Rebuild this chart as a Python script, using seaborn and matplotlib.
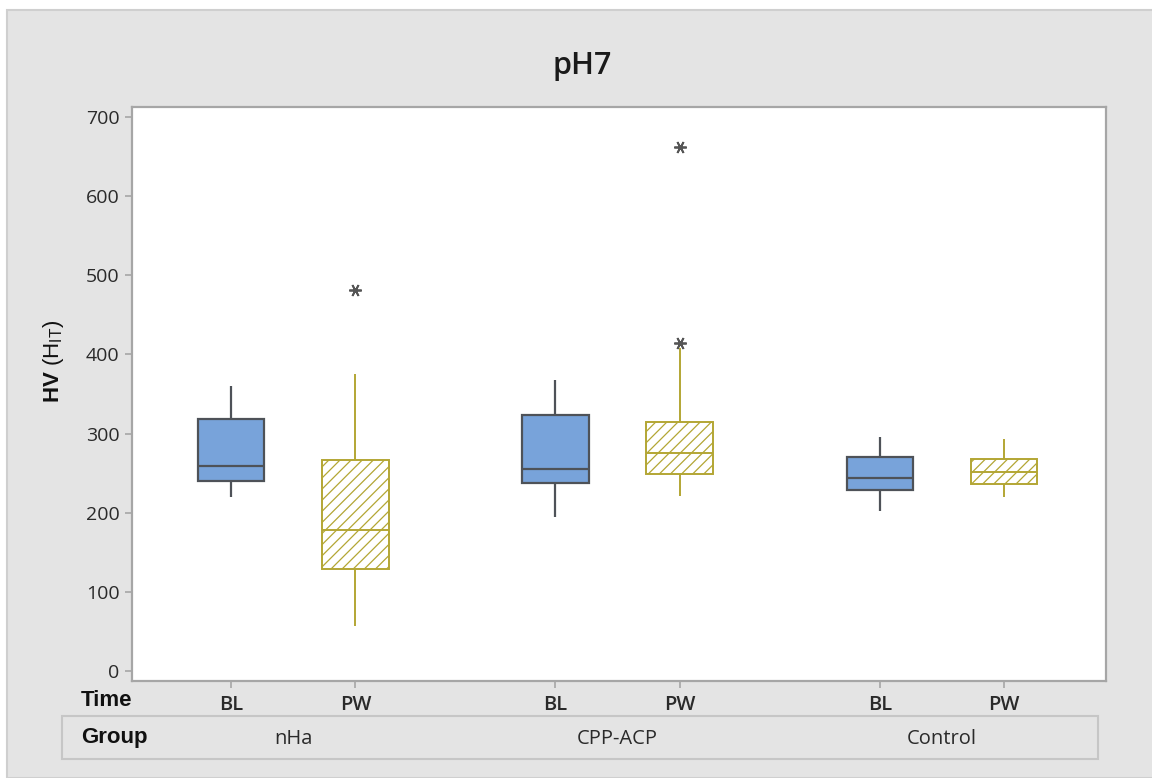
import matplotlib
matplotlib.use("Agg")
import matplotlib.pyplot as plt
import numpy as np
import pandas as pd
import seaborn as sns
from matplotlib.patches import Rectangle

# ---------------- data ----------------
groups = ["nHa", "CPP-ACP", "Control"]
times = ["BL", "PW"]
title = "pH7"
y_ticks = [0, 100, 200, 300, 400, 500, 600, 700]

hv_nha_bl = [220, 228, 235, 240, 246, 253, 259, 272, 295, 318, 332, 348, 360]
hv_nha_pw = [57, 85, 110, 129, 145, 162, 178, 205, 240, 267, 305, 375, 481]
hv_cpp_bl = [195, 215, 228, 237, 243, 249, 255, 270, 298, 323, 338, 355, 368]
hv_cpp_pw = [221, 232, 242, 249, 258, 267, 275, 288, 302, 314, 408, 415, 662]
hv_ctl_bl = [202, 212, 222, 229, 235, 240, 244, 252, 262, 270, 280, 289, 296]
hv_ctl_pw = [220, 226, 232, 236, 241, 246, 251, 256, 262, 268, 276, 285, 293]

samples = {
    ("nHa", "BL"): hv_nha_bl, ("nHa", "PW"): hv_nha_pw,
    ("CPP-ACP", "BL"): hv_cpp_bl, ("CPP-ACP", "PW"): hv_cpp_pw,
    ("Control", "BL"): hv_ctl_bl, ("Control", "PW"): hv_ctl_pw,
}

# ---------------- layout ----------------
group_step = 2.61
def slot(g, t):
    return groups.index(g) * group_step + times.index(t)

rows = []
for (g, t), vals in samples.items():
    for v in vals:
        rows.append({"Group": g, "Time": t, "HV": v, "pos": slot(g, t)})
df = pd.DataFrame(rows)

BLUE = "#78A3DA"
DARK = "#4E5258"
YELLOW = "#B3A634"
SPINE = "#A6A6A6"
PANEL = "#E4E4E4"
TXT = "#2A2A2A"

sns.set_style("white")
plt.rcParams["hatch.linewidth"] = 0.9
plt.rcParams["hatch.color"] = YELLOW
plt.rcParams["mathtext.fontset"] = "custom"
plt.rcParams["mathtext.rm"] = "Liberation Sans"
plt.rcParams["mathtext.bf"] = "Liberation Sans:bold"
plt.rcParams["font.family"] = ["Open Sans", "DejaVu Sans"]

W, H = 1152, 778
fig = plt.figure(figsize=(W / 100, H / 100), dpi=100, facecolor="white")
fig.add_artist(Rectangle((7 / W, 0), 1 - 7 / W + 0.01, 1 - 10 / H,
                         transform=fig.transFigure, facecolor=PANEL,
                         edgecolor="#CFCFCF", linewidth=1.5, zorder=-10))

ax = fig.add_axes([132 / W, (H - 681) / H, (1106 - 132) / W, (681 - 107) / H])
ax.set_facecolor("white")

box_w = 0.535 / group_step
flier = dict(marker=(6, 2, 90), markersize=9, markeredgewidth=1.3,
             markeredgecolor="#555555", markerfacecolor="none", linestyle="none")
nocap = dict(visible=False)

sns.boxplot(data=df[df["Time"] == "BL"], x="pos", y="HV", native_scale=True,
            color=BLUE, linecolor=DARK, linewidth=1.6, width=box_w,
            saturation=1, fill=True, flierprops=flier, capprops=nocap, ax=ax)
n_before = len(ax.patches)
sns.boxplot(data=df[df["Time"] == "PW"], x="pos", y="HV", native_scale=True,
            color="white", linecolor=YELLOW, linewidth=1.4, width=box_w,
            saturation=1, fill=True, flierprops=flier, capprops=nocap, ax=ax)
for p in ax.patches[n_before:]:
    p.set_facecolor("white")
    p.set_edgecolor(YELLOW)
    p.set_hatch("///")
    if hasattr(p, "set_hatchcolor"):
        p.set_hatchcolor(YELLOW)

for ln in ax.lines:
    m = ln.get_marker()
    if m not in (None, "None", "", " "):
        ln.set_markeredgecolor("#555555")
        ln.set_markerfacecolor("none")

# axes limits / ticks
ax.set_ylim(-12.6, 712.6)
ax.set_xlim(-0.797, 7.04)
ax.set_yticks(y_ticks)
ax.set_yticklabels([str(v) for v in y_ticks], fontsize=14, color=TXT)
xt = [slot(g, t) for g in groups for t in times]
ax.set_xticks(xt)
ax.set_xticklabels([t for g in groups for t in times], fontsize=14.5,
                   color=TXT, fontweight="semibold")
ax.tick_params(axis="y", direction="out", length=5, width=1.2, color=SPINE, pad=4, left=True)
ax.tick_params(axis="x", direction="out", length=5, width=1.2, color=SPINE, pad=5, bottom=True)
ax.set_xlabel("")
ax.set_ylabel("")
for s in ax.spines.values():
    s.set_visible(True)
    s.set_color(SPINE)
    s.set_linewidth(1.6)

# title
fig.text(582 / W, 1 - 66 / H, title, ha="center", va="center", fontsize=22,
         fontweight="semibold", color="#1A1A1A")

# y label
fig.text(54 / W, 1 - 361 / H, r"$\mathbf{HV}$ (H$_{\mathrm{IT}}$)", rotation=90,
         ha="center", va="center", fontsize=16, color="#111111",
         family="Liberation Sans")

# Time / Group rows
fig.text(81 / W, 1 - 700 / H, "Time", ha="left", va="center", fontsize=16,
         fontweight="bold", family="Liberation Sans", color="#111111")
fig.add_artist(Rectangle((62 / W, (H - 759) / H), (1098 - 62) / W, (759 - 716) / H,
                         transform=fig.transFigure, facecolor=PANEL,
                         edgecolor="#C6C6C6", linewidth=1.5))
fig.text(81 / W, 1 - 738 / H, "Group", ha="left", va="center", fontsize=16,
         fontweight="bold", family="Liberation Sans", color="#111111")
for g in groups:
    cx = (slot(g, "BL") + slot(g, "PW")) / 2
    xd = ax.transData.transform((cx, 0))[0]
    fig.text(xd / W, 1 - 739 / H, g, ha="center", va="center", fontsize=14.5,
             color=TXT)

fig.savefig("out.png", dpi=100, facecolor=fig.get_facecolor())
